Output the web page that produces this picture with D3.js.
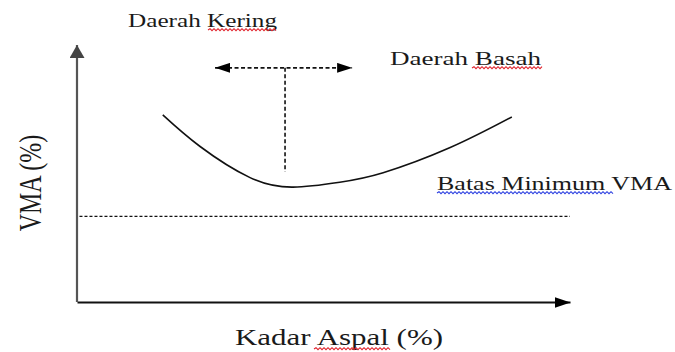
<!DOCTYPE html>
<html>
<head>
<meta charset="utf-8">
<script src="https://cdn.jsdelivr.net/npm/d3@7"></script>
<style>
  body { margin: 0; background: #fff; }
  svg text { font-family: "Liberation Serif", "Times New Roman", serif; fill: #1a1a1a; }
</style>
</head>
<body>
<div id="main"></div>
<script>
// schematic values, arbitrary units 0..100 on both axes
var kadarAspal = [17.4, 24.9, 35.1, 43.8, 53.3, 62.1, 75.7, 88.2];
var vma        = [72.8, 60.6, 48.4, 44.7, 46.6, 50.3, 60.1, 72.0];
var vmaMinimum = 33.3;
var optimumAspal = 42.2;
var optimumTop = 91.1, optimumBottom = 50.6;
var arrowFrom = 28.0, arrowTo = 55.8;

var width = 675, height = 352;

var x = d3.scaleLinear().domain([0, 100]).range([77, 570]);
var y = d3.scaleLinear().domain([0, 100]).range([302, 45]);

var svg = d3.select("#main").append("svg")
  .attr("width", width)
  .attr("height", height);

var defs = svg.append("defs");
function marker(id, w, h, color) {
  defs.append("marker")
    .attr("id", id)
    .attr("viewBox", "0 0 " + w + " " + h)
    .attr("refX", w)
    .attr("refY", h / 2)
    .attr("markerWidth", w)
    .attr("markerHeight", h)
    .attr("markerUnits", "userSpaceOnUse")
    .attr("orient", "auto-start-reverse")
    .append("path")
    .attr("d", "M0,0L" + w + "," + (h / 2) + "L0," + h + "Z")
    .attr("fill", color);
}
marker("arrowX", 16, 11, "#000");
marker("arrowY", 13, 15, "#444");
marker("arrowD", 15, 10, "#000");

// axes, no ticks
var xAxis = svg.append("g")
  .attr("transform", "translate(0," + y(0) + ")")
  .call(d3.axisBottom(x).tickValues([]).tickSizeOuter(0));
xAxis.select(".domain")
  .attr("stroke", "#111")
  .attr("stroke-width", 2)
  .attr("marker-end", "url(#arrowX)");

var yAxis = svg.append("g")
  .attr("transform", "translate(" + x(0) + ",0)")
  .call(d3.axisLeft(y).tickValues([]).tickSizeOuter(0));
yAxis.select(".domain")
  .attr("d", "M0," + y(0) + "V" + y(100))
  .attr("stroke", "#555")
  .attr("stroke-width", 2.2)
  .attr("marker-end", "url(#arrowY)");

// minimum VMA line
svg.append("line")
  .attr("x1", x(0.5)).attr("x2", x(100))
  .attr("y1", y(vmaMinimum)).attr("y2", y(vmaMinimum))
  .attr("stroke", "#111")
  .attr("stroke-width", 1.3)
  .attr("stroke-dasharray", "3,2");

// VMA curve
var line = d3.line()
  .x(function(d, i) { return x(kadarAspal[i]); })
  .y(function(d) { return y(d); })
  .curve(d3.curveNatural);

svg.append("path")
  .datum(vma)
  .attr("d", line)
  .attr("fill", "none")
  .attr("stroke", "#111")
  .attr("stroke-width", 1.6);

// optimum marker
svg.append("line")
  .attr("x1", x(optimumAspal)).attr("x2", x(optimumAspal))
  .attr("y1", y(optimumTop)).attr("y2", y(optimumBottom))
  .attr("stroke", "#111")
  .attr("stroke-width", 1.6)
  .attr("stroke-dasharray", "4,2.5");

svg.append("line")
  .attr("x1", x(arrowFrom)).attr("x2", x(arrowTo))
  .attr("y1", y(optimumTop)).attr("y2", y(optimumTop))
  .attr("stroke", "#111")
  .attr("stroke-width", 1.6)
  .attr("stroke-dasharray", "4,2.5")
  .attr("marker-start", "url(#arrowD)")
  .attr("marker-end", "url(#arrowD)");

// labels
function label(txt, px, py, size, len) {
  return svg.append("text")
    .attr("x", px)
    .attr("y", py)
    .attr("font-size", size)
    .attr("textLength", len)
    .attr("lengthAdjust", "spacingAndGlyphs")
    .text(txt);
}
label("Daerah Kering", 128, 27, 18, 149);
label("Daerah Basah", 390, 65, 18.5, 151);
label("Batas Minimum VMA", 437, 190, 19, 235);
label("Kadar Aspal (%)", 235, 345, 24, 208);

svg.append("text")
  .attr("transform", "translate(41,183) scale(1.3,1) rotate(-90)")
  .attr("text-anchor", "middle")
  .attr("font-size", 24)
  .text("VMA (%)");

// spell-check squiggles
function squiggle(x0, x1, yy, color) {
  var p = d3.path();
  p.moveTo(x0, yy);
  var up = true;
  for (var xx = x0 + 2; xx <= x1; xx += 2) {
    p.lineTo(xx, up ? yy - 1.3 : yy + 0.7);
    up = !up;
  }
  svg.append("path")
    .attr("d", p.toString())
    .attr("fill", "none")
    .attr("stroke", color)
    .attr("stroke-width", 1.1);
}
squiggle(208, 277, 30, "#e0202a");
squiggle(472, 542, 68, "#e0202a");
squiggle(437, 613, 193, "#2a3ee0");
squiggle(314, 390, 349, "#e0202a");
</script>
</body>
</html>
